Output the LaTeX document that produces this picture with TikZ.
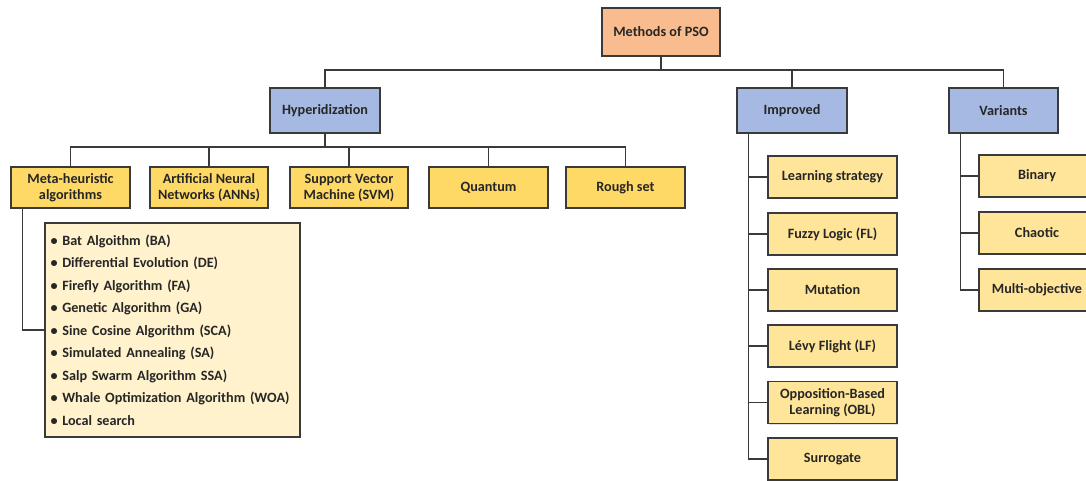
\documentclass[tikz,border=0pt]{standalone}
\usepackage{fontspec}
\setmainfont{Carlito}
\usetikzlibrary{shadows}
\definecolor{peach}{HTML}{F8BC8E}
\definecolor{bluebox}{HTML}{A6B9E2}
\definecolor{yelstrong}{HTML}{FFD966}
\definecolor{yellight}{HTML}{FFE599}
\definecolor{cream}{HTML}{FFF2CC}
\definecolor{edge}{HTML}{3A3A3A}
\tikzset{
  basebox/.style={draw=edge, line width=1.4pt, align=center, inner sep=2pt,
    font=\fontsize{14.2}{16}\selectfont\bfseries, text=black!85,
    drop shadow={shadow xshift=1pt, shadow yshift=-1pt, opacity=0.25}},
  rootbox/.style={basebox, fill=peach, minimum width=118pt, minimum height=48pt},
  catbox/.style={basebox, fill=bluebox, minimum width=110pt, minimum height=45pt},
  hybbox/.style={basebox, fill=yelstrong, minimum width=119pt, minimum height=41pt},
  impbox/.style={basebox, fill=yellight, minimum width=129pt, minimum height=42pt},
  varbox/.style={basebox, fill=yellight, minimum width=116pt, minimum height=42pt},
  listbox/.style={basebox, fill=cream, minimum width=255pt, minimum height=214pt, align=left,
    font=\fontsize{14.2}{22.5}\selectfont\bfseries, text width=244pt, inner sep=5.5pt},
  conn/.style={draw=edge, line width=1.4pt}
}
\begin{document}
\begin{tikzpicture}[x=1pt,y=-1pt]
\useasboundingbox (0,0) rectangle (1086,480);
% nodes
\node[rootbox] (root) at (661,32) {Methods of PSO};
\node[catbox] (hyb) at (325,110.5) {Hyperidization};
\node[catbox] (imp) at (792,110.5) {Improved};
\node[catbox, minimum width=109pt] (var) at (1003.5,110.5) {Variants};
\node[hybbox] (meta) at (70.5,187.5) {Meta-heuristic\\algorithms};
\node[hybbox, minimum width=118pt] (ann) at (209,187.5) {Artificial Neural\\Networks (ANNs)};
\node[hybbox, minimum width=118pt] (svm) at (349,187.5) {Support Vector\\Machine (SVM)};
\node[hybbox] (quant) at (488.5,187.5) {Quantum};
\node[hybbox] (rough) at (625.5,187.5) {Rough set};
\node[listbox] (list) at (172.5,330) {%
\textbullet\ Bat Algoithm (BA)\\
\textbullet\ Differential Evolution (DE)\\
\textbullet\ Firefly Algorithm (FA)\\
\textbullet\ Genetic Algorithm (GA)\\
\textbullet\ Sine Cosine Algorithm (SCA)\\
\textbullet\ Simulated Annealing (SA)\\
\textbullet\ Salp Swarm Algorithm SSA)\\
\textbullet\ Whale Optimization Algorithm (WOA)\\
\textbullet\ Local search};
\node[impbox] (i1) at (832.5,177) {Learning strategy};
\node[impbox] (i2) at (832.5,234) {Fuzzy Logic (FL)};
\node[impbox] (i3) at (832.5,290) {Mutation};
\node[impbox] (i4) at (832.5,346) {Lévy Flight (LF)};
\node[impbox] (i5) at (832.5,402.5) {Opposition-Based\\Learning (OBL)};
\node[impbox] (i6) at (832.5,459) {Surrogate};
\node[varbox] (v1) at (1037,176) {Binary};
\node[varbox] (v2) at (1037,233) {Chaotic};
\node[varbox] (v3) at (1037,290) {Multi-objective};
% bus coordinates
\coordinate (bus1) at (0,70);
\coordinate (bus2) at (0,147);
% root level
\draw[conn] (root.south) -- (root.south |- bus1);
\draw[conn] (hyb.north) -- (hyb.north |- bus1) -| (var.north);
\draw[conn] (imp.north) -- (imp.north |- bus1);
% hybridization level
\draw[conn] (hyb.south) -- (hyb.south |- bus2);
\draw[conn] (meta.north) -- (meta.north |- bus2) -| (rough.north);
\draw[conn] (ann.north) -- (ann.north |- bus2);
\draw[conn] (svm.north) -- (svm.north |- bus2);
\draw[conn] (quant.north) -- (quant.north |- bus2);
% meta to list
\draw[conn] ([xshift=12pt]meta.south west) |- (list.west);
% improved
\coordinate (itr) at ([xshift=12pt]imp.south west);
\draw[conn] (itr) |- (i6.west);
\foreach \n in {i1,i2,i3,i4,i5} \draw[conn] (\n.west) -- (\n.west -| itr);
% variants
\coordinate (vtr) at ([xshift=12pt]var.south west);
\draw[conn] (vtr) |- (v3.west);
\foreach \n in {v1,v2} \draw[conn] (\n.west) -- (\n.west -| vtr);
\end{tikzpicture}
\end{document}
